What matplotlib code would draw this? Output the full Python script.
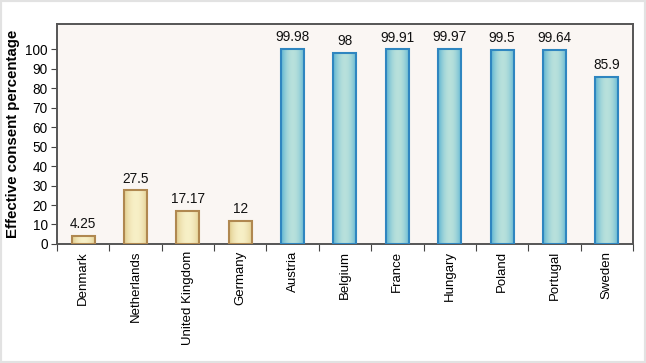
import numpy as np
import matplotlib
matplotlib.use('Agg')
import matplotlib.pyplot as plt
from matplotlib.patches import Rectangle

plt.rcParams['font.family'] = ['Liberation Sans', 'DejaVu Sans']

countries = ['Denmark', 'Netherlands', 'United Kingdom', 'Germany', 'Austria', 'Belgium',
             'France', 'Hungary', 'Poland', 'Portugal', 'Sweden']
values = [4.25, 27.5, 17.17, 12, 99.98, 98, 99.91, 99.97, 99.5, 99.64, 85.9]
labels = ['4.25', '27.5', '17.17', '12', '99.98', '98', '99.91', '99.97', '99.5', '99.64', '85.9']
opt_in = [True, True, True, True, False, False, False, False, False, False, False]

fig = plt.figure(figsize=(6.46, 3.63), dpi=100)
ax = fig.add_axes([0.088, 0.328, 0.892, 0.606])
ax.set_facecolor('#faf6f3')

x = np.arange(len(countries))
w = 0.44

# horizontal gradient, darker at the edges
g = np.linspace(-1, 1, 64)
shade = 1 - np.abs(g) ** 2
yellow_lo, yellow_hi = np.array([0.88, 0.80, 0.55]), np.array([0.97, 0.94, 0.78])
blue_lo, blue_hi = np.array([0.35, 0.70, 0.82]), np.array([0.72, 0.88, 0.86])

for xi, v, oi in zip(x, values, opt_in):
    lo, hi = (yellow_lo, yellow_hi) if oi else (blue_lo, blue_hi)
    img = lo[None, :] + shade[:, None] * (hi - lo)[None, :]
    img = img[None, :, :]
    im = ax.imshow(img, extent=(xi - w / 2, xi + w / 2, 0, v), aspect='auto', zorder=2)
    edge = '#b08850' if oi else '#2f86c0'
    r = Rectangle((xi - w / 2, 0), w, v, facecolor='none', edgecolor=edge, linewidth=1.5, zorder=3)
    ax.add_patch(r)
    im.set_clip_path(r)

for xi, v, lab in zip(x, values, labels):
    ax.text(xi, v + 2.5, lab, ha='center', va='bottom', fontsize=9.8, color='#111111')

ax.set_xlim(-0.5, len(countries) - 0.5)
ax.set_ylim(0, 113)
ax.set_yticks(range(0, 101, 10))
ax.tick_params(axis='y', labelsize=9.8, length=4.5, color='#444444', pad=2)

ax.set_xticks(np.arange(len(countries) + 1) - 0.5)
ax.set_xticklabels([])
ax.set_xticks(x, minor=True)
ax.set_xticklabels(countries, minor=True, rotation=90, fontsize=9.5)
ax.tick_params(axis='x', which='major', length=5, color='#444444')
ax.tick_params(axis='x', which='minor', length=0, pad=5)

ax.set_ylabel('Effective consent percentage', fontsize=10.8, fontweight='bold', labelpad=4)

for s in ax.spines.values():
    s.set_color('#555555')
    s.set_linewidth(1.4)

fig.patches.append(Rectangle((0, 0), 1, 1, transform=fig.transFigure, fill=False,
                             edgecolor='#e2e2e2', linewidth=3))

plt.savefig('out.png', dpi=100)
